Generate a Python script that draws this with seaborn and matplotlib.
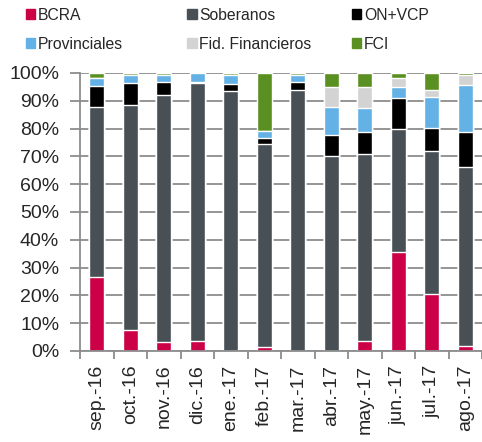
import numpy as np
import pandas as pd
import matplotlib
matplotlib.use('Agg')
import matplotlib.pyplot as plt
from matplotlib.patches import Patch
from matplotlib.ticker import FixedLocator, PercentFormatter
import seaborn as sns

sns.set_style('white')
plt.rcParams['font.family'] = ['Liberation Sans', 'DejaVu Sans']

meses = ['sep.-16', 'oct.-16', 'nov.-16', 'dic.-16', 'ene.-17', 'feb.-17',
         'mar.-17', 'abr.-17', 'may.-17', 'jun.-17', 'jul.-17', 'ago.-17']

# participacion (%) de cada tipo de activo
bcra = [26.7, 7.7, 3.1, 3.4, 0.0, 1.3, 0.0, 0.0, 3.4, 35.6, 20.5, 1.9]
soberanos = [60.9, 80.6, 88.9, 92.9, 93.6, 73.3, 94.0, 70.1, 67.6, 44.3, 51.5, 64.1]
on_vcp = [7.8, 8.0, 4.6, 0.6, 2.4, 2.0, 2.6, 7.5, 7.6, 11.0, 8.2, 12.8]
provinciales = [2.8, 2.8, 2.8, 3.1, 3.1, 2.4, 2.8, 10.3, 8.8, 4.0, 11.0, 16.7]
fid_financieros = [0.0, 0.0, 0.0, 0.0, 0.0, 0.0, 0.0, 7.2, 7.7, 3.4, 2.5, 3.9]
fci = [1.8, 0.9, 0.6, 0.0, 0.9, 21.0, 0.6, 4.9, 4.9, 1.7, 6.3, 0.6]

series = ['BCRA', 'Soberanos', 'ON+VCP', 'Provinciales', 'Fid. Financieros', 'FCI']
colores = ['#CC0046', '#485056', '#000000', '#63B1E5', '#D3D3D3', '#5A9022']

df = pd.DataFrame({'mes': meses, 'BCRA': bcra, 'Soberanos': soberanos,
                   'ON+VCP': on_vcp, 'Provinciales': provinciales,
                   'Fid. Financieros': fid_financieros, 'FCI': fci})
acum = df[series].cumsum(axis=1)

fig = plt.figure(figsize=(4.82, 4.42), dpi=100)
ax = fig.add_axes([0.166, 0.206, 0.834, 0.629])

# apilado: se dibuja de arriba hacia abajo con los acumulados
for s, c in reversed(list(zip(series, colores))):
    sns.barplot(x=df['mes'], y=acum[s], color=c, width=0.45, ax=ax,
                saturation=1, zorder=3)

ax.set_xlim(-0.5, len(meses) - 0.5)
ax.set_ylim(0, 100)
ax.set_yticks(np.arange(0, 101, 10))
ax.yaxis.set_major_formatter(PercentFormatter(decimals=0))
ax.grid(axis='y', color='#8c8c8c', linewidth=1.3, zorder=0)
ax.set_xlabel('')
ax.set_ylabel('')
ax.set_xticks(range(len(meses)))
ax.set_xticklabels(meses, rotation=90)
ax.xaxis.set_minor_locator(FixedLocator(np.arange(-0.5, len(meses), 1)))
ax.tick_params(axis='x', which='major', length=0, pad=10, labelsize=14)
ax.tick_params(axis='x', which='minor', bottom=True, length=6,
               color='#8c8c8c', width=1.3, direction='out')
ax.tick_params(axis='y', left=True, length=7, color='#8c8c8c', width=1.3,
               direction='out', pad=8, labelsize=14)
for lado in ['top', 'right']:
    ax.spines[lado].set_visible(False)
for lado in ['left', 'bottom']:
    ax.spines[lado].set_color('#8c8c8c')
    ax.spines[lado].set_linewidth(1.3)
    ax.spines[lado].set_zorder(4)

# leyenda en tres columnas
xs = [0.037, 0.372, 0.714]
for i, x in enumerate(xs):
    h = [Patch(color=colores[i]), Patch(color=colores[i + 3])]
    fig.legend(h, [series[i], series[i + 3]], loc='upper left',
               bbox_to_anchor=(x, 1.0), frameon=False, fontsize=11.3,
               handlelength=0.6, handleheight=0.6, handletextpad=0.15,
               labelspacing=0.9, borderaxespad=0.1)

fig.savefig('out.png', dpi=100)
